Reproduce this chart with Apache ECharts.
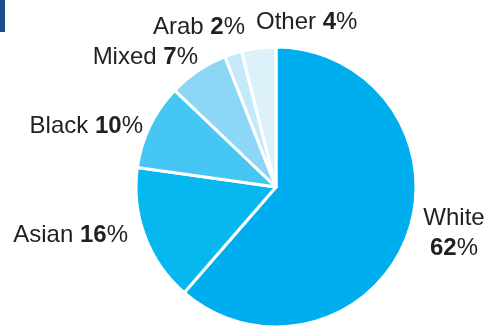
<!DOCTYPE html>
<html>
<head>
<meta charset="utf-8">
<style>
  html, body { margin: 0; padding: 0; background: #ffffff; }
  #chart { width: 489px; height: 327px; }
</style>
<script src="https://cdn.jsdelivr.net/npm/echarts@6/dist/echarts.min.js"></script>
</head>
<body>
<div id="chart"></div>
<script>
// Ethnic breakdown, percent of population
const groups = ['White', 'Asian', 'Black', 'Mixed', 'Arab', 'Other'];
const shares = [62, 16, 10, 7, 2, 4];
const sliceColors = ['#00aeef', '#07b8f0', '#45c6f3', '#8dd7f6', '#c4e9fa', '#ddf1fb'];

// Where each label sits around the pie: [x, y, horizontal alignment]
const labelSpots = [
  [454, 233, 'center'],
  [128, 235, 'right'],
  [143, 126, 'right'],
  [198, 57, 'right'],
  [245, 27, 'right'],
  [256, 22, 'left']
];

const chart = echarts.init(document.getElementById('chart'), null, { renderer: 'canvas' });

const font = '"Liberation Sans", Arial, Helvetica, sans-serif';

chart.setOption({
  animation: false,
  graphic: [{
    type: 'rect',
    shape: { x: 0, y: 0, width: 5, height: 32 },
    style: { fill: '#1b4b8c' }
  }],
  series: [{
    type: 'pie',
    center: [276, 187],
    radius: [0, 140],
    startAngle: 90,
    clockwise: true,
    avoidLabelOverlap: false,
    itemStyle: { borderColor: '#ffffff', borderWidth: 3 },
    labelLine: { show: false },
    label: {
      show: true,
      position: 'outside',
      color: '#231f20',
      fontFamily: font,
      fontSize: 24,
      formatter: function (p) {
        if (p.dataIndex === 0) {
          return '{n|' + p.name + '}\n{b|' + p.value + '}{n|%}';
        }
        return '{n|' + p.name + ' }{b|' + p.value + '}{n|%}';
      },
      rich: {
        n: { fontFamily: font, fontSize: 24, color: '#231f20', lineHeight: 30 },
        b: { fontFamily: font, fontSize: 24, fontWeight: 'bold', color: '#231f20', lineHeight: 30 }
      }
    },
    labelLayout: function (params) {
      const s = labelSpots[params.dataIndex];
      return { x: s[0], y: s[1], align: s[2], verticalAlign: 'middle', hideOverlap: false };
    },
    data: groups.map(function (g, i) {
      return { name: g, value: shares[i], itemStyle: { color: sliceColors[i] } };
    })
  }]
});
</script>
</body>
</html>
